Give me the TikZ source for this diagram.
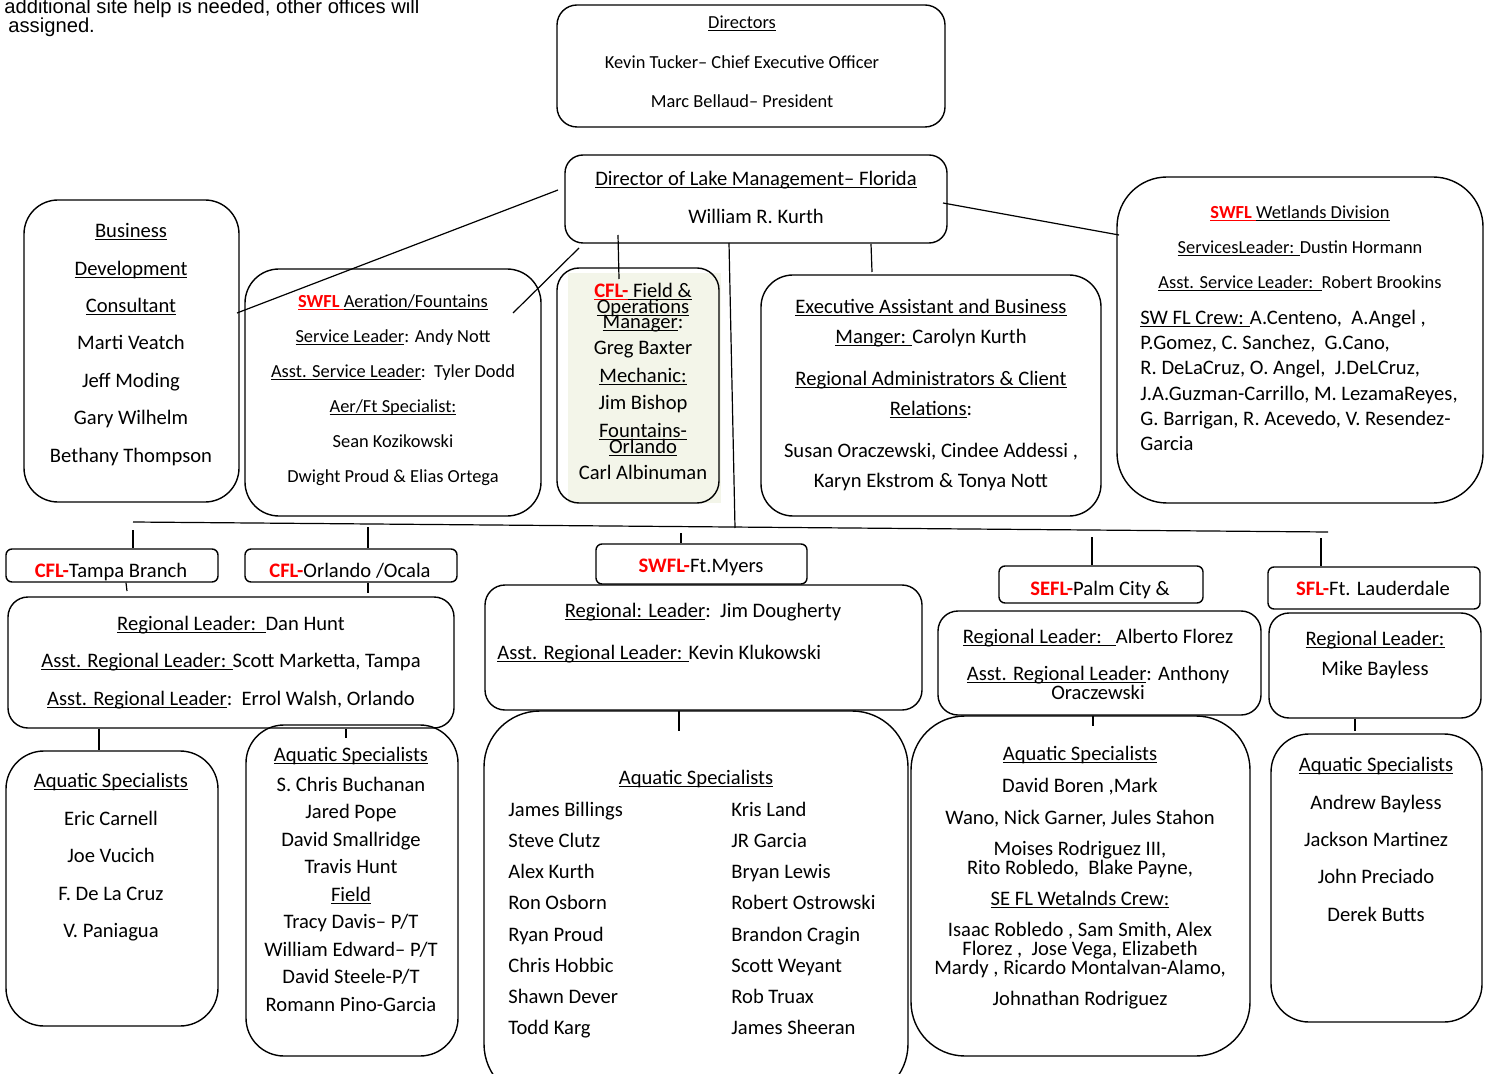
\documentclass[tikz,border=0pt]{standalone}
\usepackage{fontspec}
\setmainfont{Carlito}
\newfontfamily\arialfont{Liberation Sans}
\usepackage{tikz}
\usetikzlibrary{fit}
\definecolor{fieldfill}{HTML}{F3F5E9}
\definecolor{branchred}{HTML}{FF0000}
\newcommand{\uln}[1]{\setbox0\hbox{#1}\rlap{\rule[-1.4pt]{\wd0}{0.55pt}}\box0}
\newcommand{\rd}[1]{\textcolor{branchred}{\textbf{#1}}}

\begin{document}
\begin{tikzpicture}[
  x=0.5pt, y=-0.5pt,
  box/.style={draw, line width=0.7pt, inner sep=0pt},
  ln/.style={anchor=base, yshift=-3.8pt, inner sep=0pt, font=\fontsize{10.3}{12}\selectfont},
  sm/.style={ln, font=\fontsize{9.2}{11}\selectfont},
  lw/.style={ln, anchor=base west},
  wire/.style={line width=0.6pt},
  note/.style={anchor=base west, inner sep=0pt, font=\arialfont\fontsize{10.1}{12}\selectfont}
]
\useasboundingbox (0,0) rectangle (1491,1074);

% note at top left
\node[note] (note1) at (4,14) {additional site help is needed, other offices will};
\node[note] (note2) at (8,33) {assigned.};

% top boxes
\node[box, rounded corners=10pt, fit={(557,5) (945,127)}] (dirs) {};
\node[box, rounded corners=9pt, fit={(565,155) (947,243)}] (dlm) {};
\node[box, rounded corners=17pt, fit={(24,200) (239,502)}] (biz) {};
\node[box, rounded corners=17pt, fit={(245,269) (541,516)}] (aer) {};
\fill[fieldfill] (568,273) rectangle (721,503);
\node[box, rounded corners=11pt, fit={(557,268) (719,503)}] (fld) {};
\node[box, rounded corners=16pt, fit={(761,275) (1101,516)}] (exec) {};
\node[box, rounded corners=25pt, fit={(1117,177) (1483,503)}] (wetl) {};

\foreach \yy/\tx [count=\i] in {21/{\uln{Directors}}, 61/{Kevin Tucker– Chief Executive Officer}, 100/{Marc Bellaud– President}}
  \node[sm] (dirs-\i) at (742,\yy) {\tx};
\foreach \yy/\tx [count=\i] in {178/{\uln{Director of Lake Management– Florida}}, 216/{William R. Kurth}}
  \node[ln] (dlm-\i) at (756,\yy) {\tx};
\foreach \yy/\tx [count=\i] in {230/{\uln{Business}}, 268/{\uln{Development}}, 305/{\uln{Consultant}}, 342/{Marti Veatch}, 380/{Jeff Moding}, 417/{Gary Wilhelm}, 455/{Bethany Thompson}}
  \node[ln] (biz-\i) at (131,\yy) {\tx};
\foreach \yy/\tx [count=\i] in {300/{\textcolor{branchred}{\uln{\textbf{SWFL }}}\uln{Aeration/Fountains}}, 335/{\uln{Service Leader}: Andy Nott}, 370/{\uln{Asst. Service Leader}:\ \ Tyler Dodd}, 405/{\uln{Aer/Ft Specialist:}}, 440/{Sean Kozikowski}, 475/{Dwight Proud \& Elias Ortega}}
  \node[sm] (aer-\i) at (393,\yy) {\tx};
\foreach \yy/\tx [count=\i] in {290/{\textcolor{branchred}{\uln{\textbf{CFL-}}}\uln{ Field \&}}, 306/{\uln{Operations}}, 321/{\uln{Manager}:}, 347/{Greg Baxter}, 375/{\uln{Mechanic:}}, 402/{Jim Bishop}, 430/{\uln{Fountains-}}, 446/{\uln{Orlando}}, 472/{Carl Albinuman}}
  \node[ln] (fld-\i) at (643,\yy) {\tx};
\foreach \yy/\tx [count=\i] in {306/{\uln{Executive Assistant and Business}}, 336/{\uln{Manger: }Carolyn Kurth}, 378/{\uln{Regional Administrators \& Client}}, 408/{\uln{Relations}:}, 450/{Susan Oraczewski, Cindee Addessi ,}, 480/{Karyn Ekstrom \& Tonya Nott}}
  \node[ln] (exec-\i) at (931,\yy) {\tx};
\foreach \yy/\tx [count=\i] in {211/{\textcolor{branchred}{\uln{\textbf{SWFL }}}\uln{Wetlands Division}}, 246/{\uln{ServicesLeader: }Dustin Hormann}, 281/{\uln{Asst. Service Leader:\ \ }Robert Brookins}}
  \node[sm] (wetl-\i) at (1300,\yy) {\tx};
\foreach \yy/\tx [count=\i] in {317/{\uln{SW FL Crew: }A.Centeno,\ \ A.Angel ,}, 342/{P.Gomez, C. Sanchez,\ \ G.Cano,}, 367/{R. DeLaCruz, O. Angel,\ \ J.DeLCruz,}, 393/{J.A.Guzman-Carrillo, M. LezamaReyes,}, 418/{G. Barrigan, R. Acevedo, V. Resendez-}, 443/{Garcia}}
  \node[lw] (crew-\i) at (1140,\yy) {\tx};

% links from director of lake management
\coordinate (kBizA) at (558,190);   \coordinate (kBizB) at (237,313);
\coordinate (kAerA) at (579,248);   \coordinate (kAerB) at (513,313);
\coordinate (kFldA) at (618,235);   \coordinate (kFldB) at (619,279);
\coordinate (kBusA) at (729,243);   \coordinate (kBusB) at (735,528);
\coordinate (kExeA) at (871,244);   \coordinate (kExeB) at (872,272);
\coordinate (kWetA) at (943,203);   \coordinate (kWetB) at (1119,235);
\draw[wire] (kBizA) -- (kBizB);
\draw[wire] (kAerA) -- (kAerB);
\draw[wire] (kFldA) -- (kFldB);
\draw[wire] (kBusA) -- (kBusB);
\draw[wire] (kExeA) -- (kExeB);
\draw[wire] (kWetA) -- (kWetB);

% branch bus
\coordinate (busL) at (133,522);
\coordinate (busR) at (1328,532);
\draw[wire] (busL) -- (busR);

% branch offices
\node[box, rounded corners=3pt, fit={(6,549) (218,582)}] (tampa) {};
\node[box, rounded corners=3pt, fit={(245,549) (457,582)}] (orl) {};
\node[box, rounded corners=3pt, fit={(596,544) (807,584)}] (ftm) {};
\node[box, rounded corners=3pt, fit={(999,566) (1203,603)}] (sefl) {};
\node[box, rounded corners=3pt, fit={(1268,567) (1480,609)}] (sfl) {};
\node[ln] (tampa-1) at (111,570) {\rd{CFL-}Tampa Branch};
\node[ln] (orl-1) at (350,570) {\rd{CFL-}Orlando /Ocala};
\node[ln] (ftm-1) at (701,565) {\rd{SWFL-}Ft.Myers};
\node[ln] (sefl-1) at (1100,588) {\rd{SEFL-}Palm City \&};
\node[ln] (sfl-1) at (1373,588) {\rd{SFL-}Ft. Lauderdale};

\coordinate (tTampa) at (133,530);  \coordinate (tOrl) at (368,527);
\coordinate (tFtm) at (681,533);    \coordinate (tSefl) at (1092,537);
\coordinate (tSfl) at (1321,538);
\draw[wire] (tTampa) -- (tTampa |- tampa.north);
\draw[wire] (tOrl) -- (tOrl |- orl.north);
\draw[wire] (tFtm) -- (tFtm |- ftm.north);
\draw[wire] (tSefl) -- (tSefl |- sefl.north);
\draw[wire] (tSfl) -- (tSfl |- sfl.north);

% regional leaders
\node[box, rounded corners=10pt, fit={(8,597) (454,728)}] (cflreg) {};
\node[box, rounded corners=10pt, fit={(485,585) (922,710)}] (ftmreg) {};
\node[box, rounded corners=10pt, fit={(938,611) (1261,715)}] (seflreg) {};
\node[box, rounded corners=10pt, fit={(1269,613) (1481,718)}] (sflreg) {};

\foreach \yy/\tx [count=\i] in {623/{\uln{Regional Leader:\ \ }Dan Hunt}, 660/{\uln{Asst. Regional Leader: }Scott Marketta, Tampa}, 698/{\uln{Asst. Regional Leader}:\ \ Errol Walsh, Orlando}}
  \node[ln] (cflreg-\i) at (231,\yy) {\tx};
\node[ln] (ftmreg-1) at (703,610) {\uln{Regional: Leader}:\ \ Jim Dougherty};
\node[lw] (ftmreg-2) at (497,652) {\uln{Asst. Regional Leader: }Kevin Klukowski};
\foreach \yy/\tx [count=\i] in {636/{\uln{Regional Leader:\ \ \ }Alberto Florez}, 673/{\uln{Asst. Regional Leader}: Anthony}, 692/{Oraczewski}}
  \node[ln] (seflreg-\i) at (1098,\yy) {\tx};
\foreach \yy/\tx [count=\i] in {638/{\uln{Regional Leader:}}, 668/{Mike Bayless}}
  \node[ln] (sflreg-\i) at (1375,\yy) {\tx};

\draw[wire] (tampa.south -| 126,0) -- (127,591);
\draw[wire] (orl.south -| 368,0) -- (368,593);

% aquatic specialists
\node[box, rounded corners=19pt, fit={(6,751) (218,1026)}] (tampaaq) {};
\node[box, rounded corners=19pt, fit={(246,725) (458,1056)}] (orlaq) {};
\node[box, rounded corners=28pt, fit={(484,711) (908,1100)}] (ftmaq) {};
\node[box, rounded corners=27pt, fit={(911,716) (1250,1056)}] (seflaq) {};
\node[box, rounded corners=19pt, fit={(1271,734) (1482,1022)}] (sflaq) {};

\draw[wire] (cflreg.south -| 99,0) -- (tampaaq.north -| 99,0);
\draw[wire] (cflreg.south -| 346,0) -- (346,738);
\draw[wire] (ftmreg.south -| 679,0) -- (679,731);
\draw[wire] (seflreg.south -| 1093,0) -- (1093,726);
\draw[wire] (sflreg.south -| 1355,0) -- (1355,731);

\foreach \yy/\tx [count=\i] in {780/{\uln{Aquatic Specialists}}, 818/{Eric Carnell}, 855/{Joe Vucich}, 893/{F. De La Cruz}, 930/{V. Paniagua}}
  \node[ln] (tampaaq-\i) at (111,\yy) {\tx};
\foreach \yy/\tx [count=\i] in {754/{\uln{Aquatic Specialists}}, 784/{S. Chris Buchanan}, 811/{Jared Pope}, 839/{David Smallridge}, 866/{Travis Hunt}, 894/{\uln{Field}}, 921/{Tracy Davis– P/T}, 949/{William Edward– P/T}, 976/{David Steele-P/T}, 1004/{Romann Pino-Garcia}}
  \node[ln] (orlaq-\i) at (351,\yy) {\tx};
\node[ln] (ftmaq-0) at (696,777) {\uln{Aquatic Specialists}};
\foreach \yy/\ta/\tb [count=\i] in {809/James Billings/Kris Land, 840/Steve Clutz/JR Garcia, 871/Alex Kurth/Bryan Lewis, 902/Ron Osborn/Robert Ostrowski, 934/Ryan Proud/Brandon Cragin, 965/Chris Hobbic/Scott Weyant, 996/Shawn Dever/Rob Truax, 1027/Todd Karg/James Sheeran} {
  \node[lw] (ftmaqL-\i) at (508,\yy) {\ta};
  \node[lw] (ftmaqR-\i) at (731,\yy) {\tb};
}
\foreach \yy/\tx [count=\i] in {753/{\uln{Aquatic Specialists}}, 785/{David Boren ,Mark}, 817/{Wano, Nick Garner, Jules Stahon}, 848/{Moises Rodriguez III,}, 867/{Rito Robledo,\ \ Blake Payne,}, 898/{\uln{SE FL Wetalnds Crew:}}, 929/{Isaac Robledo , Sam Smith, Alex}, 948/{Florez ,\ \ Jose Vega, Elizabeth}, 967/{Mardy , Ricardo Montalvan-Alamo,}, 998/{Johnathan Rodriguez}}
  \node[ln] (seflaq-\i) at (1080,\yy) {\tx};
\foreach \yy/\tx [count=\i] in {764/{\uln{Aquatic Specialists}}, 802/{Andrew Bayless}, 839/{Jackson Martinez}, 876/{John Preciado}, 914/{Derek Butts}}
  \node[ln] (sflaq-\i) at (1376,\yy) {\tx};

\end{tikzpicture}
\end{document}
